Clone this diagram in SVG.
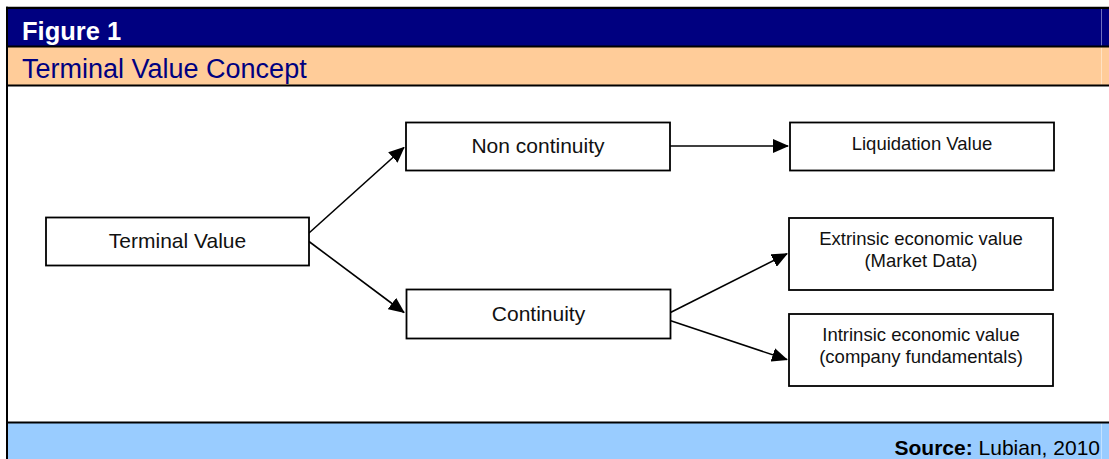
<svg xmlns="http://www.w3.org/2000/svg" width="1109" height="459" viewBox="0 0 1109 459">
  <defs>
    <marker id="arrow" markerUnits="userSpaceOnUse" markerWidth="16" markerHeight="14" refX="15" refY="7" orient="auto">
      <path d="M0,0 L16,7 L0,14 Z" fill="#000"/>
    </marker>
    <style>
      .box { fill: #fff; stroke: #000; stroke-width: 1.8; }
      .lbl { font-family: "Liberation Sans", Arial, sans-serif; fill: #111; text-anchor: middle; }
      .big { font-size: 21px; }
      .small { font-size: 18.5px; }
      .conn { stroke: #000; stroke-width: 1.6; fill: none; marker-end: url(#arrow); }
      .rule { stroke: #000; }
    </style>
  </defs>

  <!-- frame / bands -->
  <g id="frame">
    <rect x="0" y="0" width="1109" height="459" fill="#fff"/>
    <rect x="6" y="7" width="1103" height="39.5" fill="#000080"/>
    <rect x="6" y="46.5" width="1103" height="39" fill="#FFCC99"/>
    <rect x="6" y="422.5" width="1103" height="36.5" fill="#99CCFF"/>
    <line x1="1101.5" y1="9" x2="1101.5" y2="45.5" stroke="#6f6fc0" stroke-width="1"/>
    <line x1="1101.5" y1="47.5" x2="1101.5" y2="84.5" stroke="#ffe2c4" stroke-width="1"/>
    <line x1="1101.5" y1="423.5" x2="1101.5" y2="459" stroke="#c4e2ff" stroke-width="1"/>
    <line class="rule" x1="6" y1="7.9" x2="1109" y2="7.9" stroke-width="2.3"/>
    <line class="rule" x1="6" y1="46.6" x2="1109" y2="46.6" stroke-width="2"/>
    <line class="rule" x1="6" y1="85.5" x2="1109" y2="85.5" stroke-width="1.8"/>
    <line class="rule" x1="6" y1="422.6" x2="1109" y2="422.6" stroke-width="2"/>
    <line class="rule" x1="7" y1="6.8" x2="7" y2="459" stroke-width="2"/>
    <text x="22" y="39.5" font-family="Liberation Sans, Arial, sans-serif" font-size="25.5" font-weight="bold" fill="#fff">Figure 1</text>
    <text x="22" y="78" font-family="Liberation Sans, Arial, sans-serif" font-size="27" fill="#000080">Terminal Value Concept</text>
    <text x="1100" y="454.5" font-family="Liberation Sans, Arial, sans-serif" font-size="21" fill="#000" text-anchor="end"><tspan font-weight="bold">Source:</tspan> Lubian, 2010</text>
  </g>

  <!-- connectors -->
  <g id="connectors">
    <line class="conn" x1="309" y1="233" x2="404" y2="147.5"/>
    <line class="conn" x1="309" y1="241.5" x2="404" y2="312.5"/>
    <line class="conn" x1="670" y1="146" x2="788" y2="146"/>
    <line class="conn" x1="668.5" y1="313.5" x2="787" y2="253.8"/>
    <line class="conn" x1="668.5" y1="320" x2="787" y2="359.6"/>
  </g>

  <g id="terminal-value">
    <rect class="box" x="46" y="217.5" width="263" height="48"/>
    <text class="lbl big" x="177.5" y="248">Terminal Value</text>
  </g>
  <g id="non-continuity">
    <rect class="box" x="406" y="122.5" width="264" height="48"/>
    <text class="lbl big" x="538" y="153.3">Non continuity</text>
  </g>
  <g id="continuity">
    <rect class="box" x="406.5" y="289.5" width="264" height="49"/>
    <text class="lbl big" x="538.5" y="320.7">Continuity</text>
  </g>
  <g id="liquidation-value">
    <rect class="box" x="790" y="122.5" width="264" height="48"/>
    <text class="lbl small" x="922" y="150">Liquidation Value</text>
  </g>
  <g id="extrinsic-value">
    <rect class="box" x="789" y="218" width="264" height="72"/>
    <text class="lbl small" x="921" y="245">Extrinsic economic value</text>
    <text class="lbl small" x="921" y="267.3">(Market Data)</text>
  </g>
  <g id="intrinsic-value">
    <rect class="box" x="789" y="314" width="264" height="72"/>
    <text class="lbl small" x="921" y="341">Intrinsic economic value</text>
    <text class="lbl small" x="921" y="363.3">(company fundamentals)</text>
  </g>
</svg>
